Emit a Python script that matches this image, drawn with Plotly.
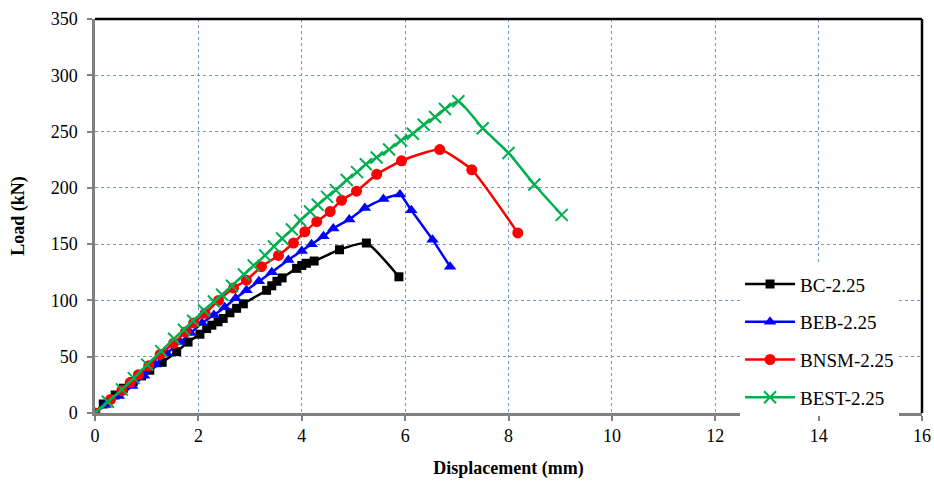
import plotly.graph_objects as go

# Data
bc_x = [0, 0.16, 0.39, 0.55, 0.74, 0.90, 1.06, 1.30, 1.58, 1.80, 2.03, 2.16, 2.26, 2.38, 2.48, 2.61, 2.74, 2.87,
        3.32, 3.42, 3.52, 3.62, 3.90, 4.00, 4.09, 4.24, 4.73, 5.25, 5.88]
bc_y = [0, 8, 16, 22, 28, 33, 38, 45, 54.5, 63, 70, 75, 78, 81, 84, 89, 93, 97,
        109, 113, 117, 120, 128.5, 131, 133, 135, 145, 151, 121]

beb_x = [0, 0.20, 0.46, 0.72, 0.95, 1.17, 1.39, 1.65, 1.85, 2.07, 2.30, 2.51, 2.72, 2.93, 3.17, 3.42,
         3.74, 4.00, 4.19, 4.42, 4.61, 4.92, 5.22, 5.58, 5.90, 6.12, 6.53, 6.87]
beb_y = [0, 7, 15, 24, 33, 43, 53, 63, 71, 80, 87, 94, 102, 109, 117, 125,
         136, 144, 150, 157, 164, 172, 182, 190, 194, 180, 154, 130]

bnsm_x = [0, 0.30, 0.52, 0.68, 0.84, 1.04, 1.26, 1.52, 1.75, 1.91, 2.13, 2.39, 2.68, 2.93, 3.22, 3.55,
          3.84, 4.06, 4.29, 4.55, 4.77, 5.06, 5.45, 5.93, 6.67, 7.29, 8.18]
bnsm_y = [0, 12, 20, 27, 34, 42, 52, 62, 72, 80, 88.5, 100, 111, 118, 130, 140,
          151, 161, 170, 179, 189, 197, 212, 224, 234, 216, 160]

best_x = [0, 0.25, 0.52, 0.75, 1.01, 1.28, 1.53, 1.72, 1.90, 2.11, 2.30, 2.46, 2.65, 2.88, 3.07, 3.29,
          3.46, 3.62, 3.81, 3.97, 4.16, 4.31, 4.49, 4.66, 4.87, 5.07, 5.24, 5.45, 5.69, 5.92,
          6.15, 6.36, 6.58, 6.77, 7.03, 7.50, 8.00, 8.50, 9.03]
best_y = [0, 10, 21, 31, 43, 55, 66, 74, 82, 91, 99, 105, 113, 123, 131, 140,
          148, 155, 163, 171, 179, 185, 192, 198, 207, 214, 221, 227, 234, 242,
          248, 256, 263, 270, 277, 253, 231, 203, 176]

x_ticks = list(range(0, 17, 2))
y_ticks = list(range(0, 351, 50))

FONT = "Liberation Serif"

series = [
    ("BC-2.25", bc_x, bc_y, "#000000", "square", 9, None),
    ("BEB-2.25", beb_x, beb_y, "#0000FF", "triangle-up", 11, None),
    ("BNSM-2.25", bnsm_x, bnsm_y, "#FF0000", "circle", 11, None),
    ("BEST-2.25", best_x, best_y, "#00B050", "x-thin", 12, 2),
]

fig = go.Figure()
for name, xs, ys, col, sym, sz, lw in series:
    marker = dict(symbol=sym, size=sz, color=col)
    if lw:
        marker["line"] = dict(color=col, width=lw)
    fig.add_trace(go.Scatter(
        x=xs, y=ys, name=name, mode="lines+markers",
        line=dict(color=col, width=2.5, shape="spline", smoothing=0.5),
        marker=marker, legendgroup=name,
    ))

grid_col = "#6F95C8"
fig.update_layout(
    width=934, height=486,
    margin=dict(l=95, r=12, t=19, b=73),
    paper_bgcolor="white", plot_bgcolor="white",
    font=dict(family=FONT, size=18, color="#000000"),
    showlegend=True,
    legend=dict(
        x=0.78, y=0.375, xanchor="left", yanchor="top",
        bgcolor="white", borderwidth=0,
        font=dict(family=FONT, size=19, color="#000000"),
        tracegroupgap=10, itemwidth=50,
    ),
    xaxis=dict(
        range=[0, 16], tickvals=x_ticks, ticktext=[str(v) for v in x_ticks],
        showgrid=True, gridcolor=grid_col, griddash="dot", gridwidth=1,
        showline=True, linecolor="#808080", linewidth=2.5,
        ticks="outside", ticklen=5, tickcolor="#808080", tickwidth=1.5,
        zeroline=False, automargin=False,
        title=dict(text="<b>Displacement (mm)</b>", font=dict(family=FONT, size=18), standoff=17),
        tickfont=dict(family=FONT, size=18),
    ),
    yaxis=dict(
        range=[0, 350], tickvals=y_ticks, ticktext=[str(v) for v in y_ticks],
        showgrid=True, gridcolor=grid_col, griddash="dot", gridwidth=1,
        showline=True, linecolor="#808080", linewidth=2.5,
        ticks="outside", ticklen=5, tickcolor="#808080", tickwidth=1.5,
        zeroline=False, ticklabelstandoff=6, automargin=False,
        title=dict(text="<b>Load (kN)</b>", font=dict(family=FONT, size=18), standoff=22),
        tickfont=dict(family=FONT, size=18),
    ),
)

# black top and right frame
fig.add_shape(type="line", xref="paper", yref="paper", x0=0, x1=1, y0=1, y1=1,
              line=dict(color="black", width=2.5))
fig.add_shape(type="line", xref="paper", yref="paper", x0=1, x1=1, y0=0, y1=1,
              line=dict(color="black", width=2.5))

fig.write_html("out.html")
